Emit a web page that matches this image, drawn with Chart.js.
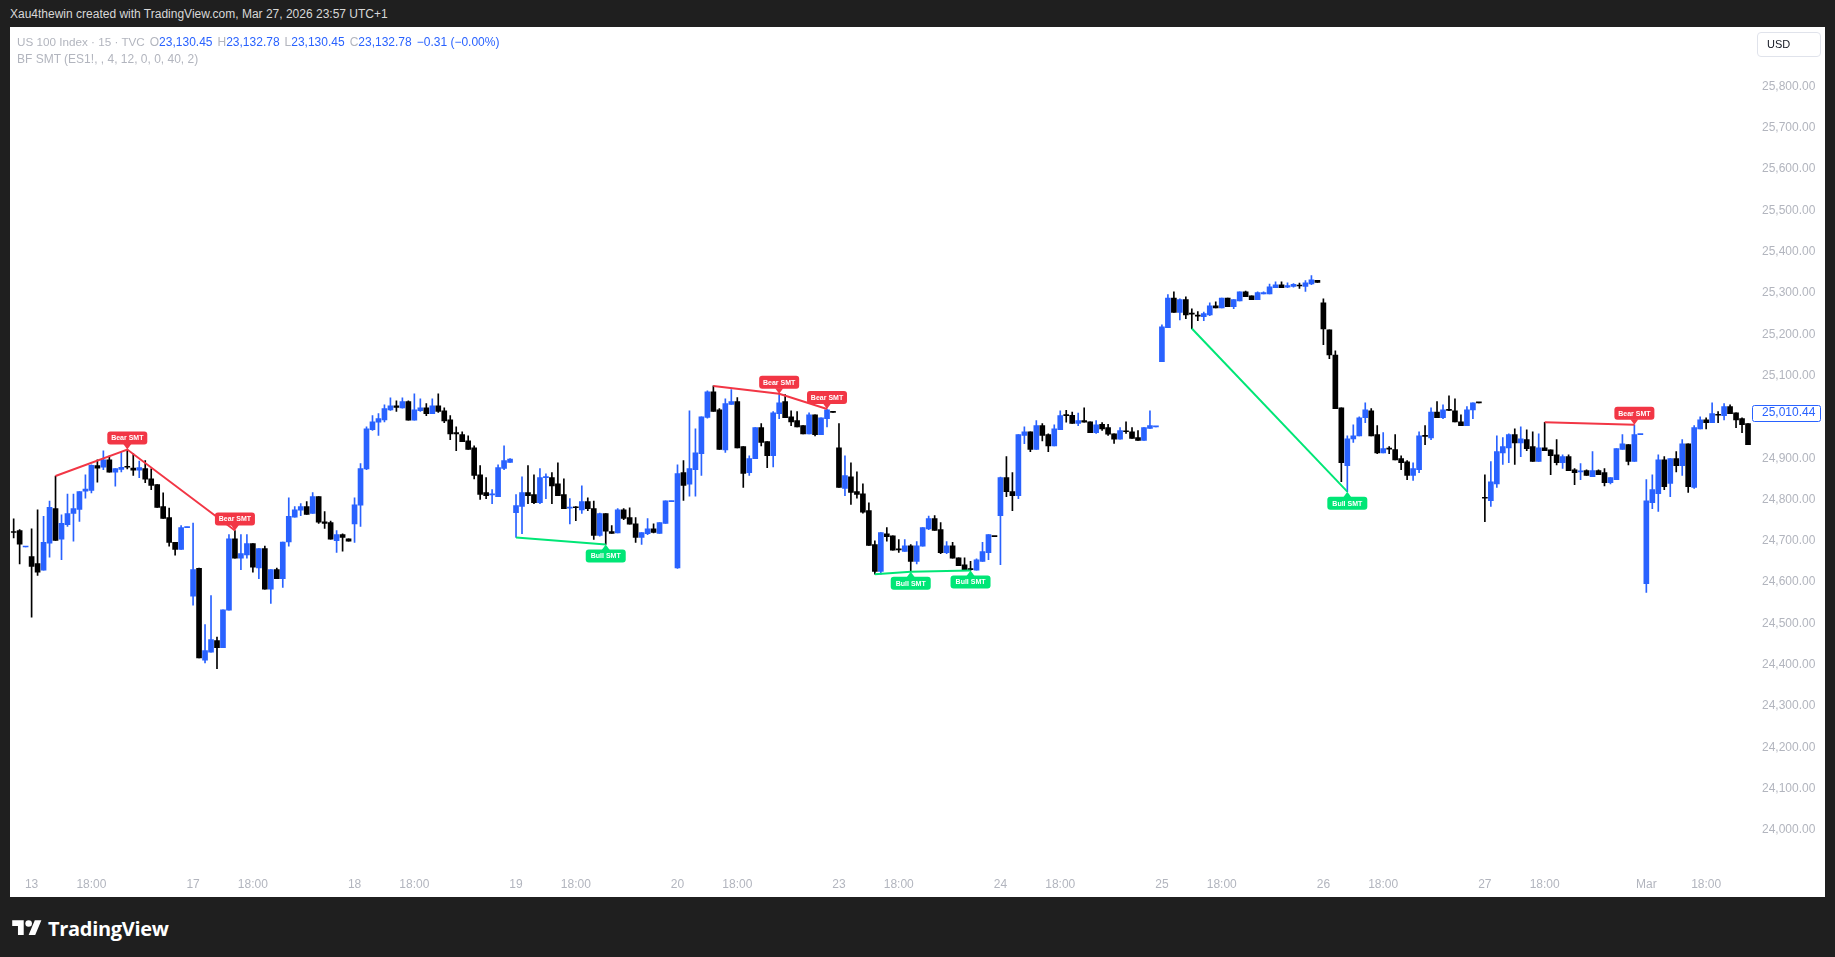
<!DOCTYPE html>
<html>
<head>
<meta charset="utf-8">
<script src="https://cdn.jsdelivr.net/npm/chart.js@4.4.1/dist/chart.umd.min.js"></script>
<style>
html,body{margin:0;padding:0;background:#1f1f1f;width:1835px;height:957px;overflow:hidden;font-family:"Liberation Sans",Arial,sans-serif;}
#title{position:absolute;left:10px;top:6px;font-size:12px;line-height:16px;color:#d8d8d8;white-space:nowrap;}
#panel{position:absolute;left:10px;top:27px;width:1815px;height:870px;background:#ffffff;}
#chart{position:absolute;left:0;top:0;}
.leg{position:absolute;left:7px;font-size:12px;line-height:16px;color:#b2b5be;white-space:nowrap;}
.leg .n{font-size:11.7px;}
.leg .v{color:#2962ff;}
.leg .g{margin-left:5px;}
#usd{position:absolute;left:1747px;top:5px;width:62px;height:23px;border:1px solid #e0e3eb;border-radius:4px;font-size:11px;line-height:23px;color:#131722;box-sizing:content-box;}
#usd span{position:absolute;left:9px;}
#logo{position:absolute;left:12px;top:916px;height:24px;display:flex;align-items:center;color:#ffffff;}
#logo span{font-size:20px;font-weight:bold;margin-left:6px;letter-spacing:-0.3px;font-family:"Open Sans","Liberation Sans",Arial,sans-serif;}
</style>
</head>
<body>
<div id="title">Xau4thewin created with TradingView.com, Mar 27, 2026 23:57 UTC+1</div>
<div id="panel">
  <canvas id="chart" width="1815" height="870"></canvas>
  <div class="leg" style="top:7px;"><span class="n">US 100 Index · 15 · TVC</span><span class="g">O</span><span class="v">23,130.45</span><span class="g">H</span><span class="v">23,132.78</span><span class="g">L</span><span class="v">23,130.45</span><span class="g">C</span><span class="v">23,132.78</span><span class="v g">−0.31 (−0.00%)</span></div>
  <div class="leg" style="top:24px;">BF SMT (ES1!, , 4, 12, 0, 0, 40, 2)</div>
  <div id="usd"><span>USD</span></div>
</div>
<div id="logo">
  <svg width="30" height="23" viewBox="0 0 36 28"><path fill="#ffffff" d="M14 22H7V11H0V4h14v18zM28 22h-8l7.5-18h8L28 22z"/><circle fill="#ffffff" cx="20" cy="8" r="4"/></svg>
  <span>TradingView</span>
</div>
<script>
// ---- sessions (15-minute bars, 15:30 - 22:00) ----
const dayNames  = ['Feb 12','Feb 13','Feb 17','Feb 18','Feb 19','Feb 20','Feb 23','Feb 24','Feb 25','Feb 26','Feb 27','Mar 2'];
const dayTicks  = ['','13','17','18','19','20','23','24','25','26','27','Mar'];
const dayBars   = [3,27,27,27,27,27,27,27,27,27,27,18];
const dayFirst  = [24,0,0,0,0,0,0,0,0,0,0,0];
const yTickValues = [24000,24100,24200,24300,24400,24500,24600,24700,24800,24900,25000,25100,25200,25300,25400,25500,25600,25700,25800];
const lastPrice = 25010.44;

// ---- OHLC values ----
const opens = [
24721,24725,24685,24662,24645,24629,24694,24778,24704,24739,
24766,24776,24820,24822,24882,24878,24896,24866,24873,24879,
24876,24871,24875,24850,24836,24783,24756,24696,24679,24732,
24566,24633,24411,24430,24458,24441,24532,24705,24658,24666,
24693,24634,24681,24583,24630,24608,24697,24757,24774,24783,
24766,24807,24746,24744,24700,24715,24705,24741,24786,24874,
24969,24987,24993,25017,25027,25022,25037,24992,25015,25022,
25008,25027,25015,24993,24962,24957,24942,24925,24860,24817,
24811,24807,24875,24890,24768,24783,24817,24812,24792,24853,
24853,24838,24812,24779,24782,24775,24795,24778,24713,24766,
24722,24719,24775,24756,24741,24708,24717,24729,24718,24742,
24795,24634,24865,24837,24872,24911,24999,25061,25017,24920,
25030,25037,24928,24865,24899,24974,24940,24906,25008,25037,
25000,24991,24979,24959,25005,24957,24996,25013,24925,24827,
24855,24819,24814,24773,24691,24626,24717,24712,24679,24674,
24688,24650,24687,24729,24754,24727,24671,24688,24659,24642,
24631,24629,24650,24671,24711,24761,24853,24819,24809,24955,
24964,24921,24979,24957,24930,24969,25004,25004,24984,24991,
24988,24962,24982,24974,24959,24946,24966,24964,24950,24943,
24972,24976,25134,25216,25288,25253,25284,25250,25245,25243,
25247,25269,25264,25288,25267,25281,25303,25293,25284,25298,
25298,25313,25320,25314,25316,25318,25316,25322,25331,25276,
25211,25150,25022,24882,24947,24954,24998,25015,24957,24913,
24923,24921,24899,24891,24858,24872,24954,24949,25012,24998,
25017,25015,24988,24979,25017,25035,24804,24797,24838,24913,
24925,24957,24937,24945,24928,24892,24925,24920,24908,24889,
24904,24872,24867,24870,24855,24870,24865,24841,24848,24921,
24933,24892,24957,24596,24792,24814,24896,24839,24899,24882,
24935,24829,24971,24993,24986,25005,25003,25025,25010,24996,24984];
const highs = [
24753,24727,24686,24729,24775,24759,24796,24857,24763,24813,
24813,24819,24860,24884,24896,24918,24905,24875,24915,24921,
24911,24893,24894,24874,24836,24816,24779,24696,24737,24733,
24743,24634,24497,24567,24467,24533,24715,24725,24715,24715,
24693,24681,24687,24630,24634,24697,24804,24783,24790,24795,
24817,24807,24771,24748,24725,24717,24705,24804,24887,24976,
25003,25008,25029,25046,25039,25046,25039,25056,25044,25032,
25044,25056,25022,25003,24976,24964,24954,24930,24882,24853,
24824,24884,24930,24899,24812,24855,24882,24860,24875,24862,
24865,24889,24850,24802,24783,24833,24804,24796,24767,24766,
24737,24778,24778,24780,24756,24720,24754,24741,24744,24797,
24796,24884,24894,25015,24971,25000,25063,25075,25020,25044,
25066,25047,24928,24906,24974,24984,24940,25013,25056,25054,
25015,25013,24979,25010,25005,24998,25019,25013,24984,24906,
24889,24867,24838,24792,24700,24720,24732,24712,24703,24703,
24691,24698,24732,24760,24761,24744,24698,24696,24659,24659,
24650,24656,24696,24715,24711,24854,24904,24865,24957,24976,
24964,24991,24984,24959,24981,25015,25016,25012,25009,25022,
24988,24991,24986,24982,24959,24974,24988,24974,24967,24974,
25015,24977,25223,25296,25303,25286,25291,25262,25255,25254,
25276,25279,25288,25288,25284,25303,25305,25293,25303,25303,
25322,25327,25327,25325,25323,25324,25330,25342,25331,25286,
25211,25160,25022,24954,24981,25000,25034,25020,24979,24962,
24928,24957,24906,24894,24889,24964,24979,25022,25037,25029,
25051,25044,25005,25025,25034,25035,24860,24892,24954,24950,
24959,24971,24976,24969,24964,24959,24987,24920,24945,24908,
24908,24875,24887,24872,24916,24872,24875,24853,24923,24957,
24933,24981,24958,24848,24860,24908,24904,24899,24916,24945,
24935,24979,25000,24998,25034,25013,25032,25029,25010,24998,24984];
const lows = [
24707,24644,24685,24515,24616,24629,24660,24701,24654,24735,
24699,24747,24803,24816,24842,24872,24866,24832,24867,24874,
24858,24853,24841,24824,24781,24754,24687,24665,24679,24732,
24544,24416,24404,24430,24390,24441,24532,24658,24630,24658,
24624,24608,24583,24548,24608,24587,24687,24757,24761,24764,
24766,24742,24730,24704,24672,24675,24699,24696,24735,24872,
24967,24955,24988,25016,25013,25021,24992,24992,25013,25003,
25008,25011,24986,24945,24918,24940,24921,24850,24800,24802,
24790,24807,24872,24890,24708,24717,24790,24790,24790,24802,
24790,24809,24778,24741,24749,24766,24773,24703,24711,24691,
24718,24719,24751,24740,24696,24691,24715,24719,24718,24742,
24795,24633,24798,24808,24808,24858,24997,25013,24921,24914,
25030,24925,24829,24858,24899,24930,24877,24879,24996,24998,
24979,24976,24959,24959,24954,24957,24976,25011,24829,24809,
24788,24803,24767,24689,24619,24619,24699,24677,24672,24674,
24625,24644,24687,24727,24725,24669,24669,24658,24640,24630,
24628,24629,24650,24654,24710,24642,24807,24773,24802,24935,
24916,24921,24942,24916,24930,24969,24987,24984,24979,24987,
24962,24960,24967,24955,24936,24946,24960,24948,24943,24943,
24972,24976,25134,25216,25253,25235,25238,25214,25233,25233,
25245,25264,25264,25267,25262,25281,25291,25284,25284,25298,
25298,25313,25313,25313,25314,25311,25304,25320,25326,25175,
25141,25020,24843,24819,24938,24954,24986,24954,24911,24913,
24911,24896,24872,24848,24846,24865,24933,24945,24998,24996,
25015,24988,24979,24979,24996,25034,24746,24783,24829,24885,
24889,24885,24904,24918,24892,24892,24918,24860,24884,24875,
24870,24836,24848,24858,24855,24860,24833,24838,24848,24921,
24884,24892,24957,24575,24778,24771,24824,24807,24867,24858,
24817,24827,24971,24971,24986,24986,24993,25008,24974,24962,24933];
const closes = [
24720,24692,24686,24638,24624,24696,24781,24701,24742,24766,
24778,24819,24825,24883,24876,24896,24866,24875,24878,24878,
24871,24877,24849,24834,24781,24754,24696,24679,24732,24733,
24630,24416,24434,24461,24441,24533,24705,24658,24669,24693,
24636,24681,24583,24630,24608,24697,24759,24775,24783,24764,
24807,24745,24742,24704,24715,24708,24699,24787,24875,24971,
24988,24996,25020,25027,25023,25037,24992,25017,25022,25008,
25027,25013,24990,24959,24959,24940,24921,24858,24812,24809,
24812,24877,24894,24898,24785,24817,24809,24792,24853,24855,
24833,24809,24778,24781,24780,24795,24778,24713,24766,24723,
24718,24775,24754,24740,24708,24720,24729,24720,24744,24797,
24796,24863,24834,24875,24913,25000,25061,25013,24921,25032,
25037,24925,24863,24899,24974,24938,24906,25010,25034,24998,
24988,24976,24959,25005,24957,24998,25017,25011,24829,24858,
24817,24812,24769,24689,24626,24720,24710,24677,24678,24688,
24650,24688,24732,24754,24725,24671,24688,24658,24640,24630,
24630,24654,24674,24715,24710,24853,24819,24809,24957,24964,
24921,24979,24955,24930,24971,25003,25003,24984,24991,24987,
24962,24981,24971,24958,24946,24967,24964,24948,24943,24974,
24979,24977,25218,25288,25253,25284,25247,25249,25244,25250,
25269,25264,25288,25267,25284,25303,25291,25284,25301,25301,
25315,25320,25313,25318,25321,25317,25325,25332,25326,25213,
25150,25020,24889,24947,24954,24998,25017,24954,24913,24923,
24922,24896,24889,24858,24875,24954,24953,25012,24998,25017,
25016,24988,24979,25017,25034,25034,24803,24843,24916,24928,
24957,24937,24947,24923,24892,24925,24918,24906,24889,24904,
24870,24865,24868,24858,24870,24860,24841,24853,24923,24935,
24892,24957,24958,24797,24824,24896,24831,24899,24882,24935,
24831,24974,24993,24986,25008,25004,25025,25008,24993,24981,24933];

// ---- SMT signals (bar indices) ----
const bearLines = [[7,19,37],[117,128,136],[256,271]];
const bullLines = [[84,99],[144,150,160],[197,223]];
const bearTags = [19,37,128,136,271];
const bullTags = [99,150,160,223];

// ---- build categories and tick texts ----
const categories = [], tickText = [];
dayNames.forEach((d, di) => {
  for (let j = dayFirst[di]; j < dayFirst[di] + dayBars[di]; j++) {
    const m = 15*60 + 30 + 15*j;
    const t = String(Math.floor(m/60)).padStart(2,'0') + ':' + String(m%60).padStart(2,'0');
    categories.push(d + ' ' + t);
    tickText.push(j === 0 ? dayTicks[di] : (t === '18:00' ? '18:00' : ''));
  }
});

const UP = '#2962ff', DOWN = '#000000', RED = '#f23645', GREEN = '#00e676';
const colors = opens.map((o, i) => closes[i] >= o ? UP : DOWN);

function lineData(idx, src) {
  const arr = categories.map(() => null);
  idx.forEach(i => { arr[i] = src[i]; });
  return arr;
}
const lineSets = [];
bearLines.forEach(l => lineSets.push({type:'line', data: lineData(l, highs), borderColor: RED, borderWidth: 2, pointRadius: 0, spanGaps: true, order: 0}));
bullLines.forEach(l => lineSets.push({type:'line', data: lineData(l, lows), borderColor: GREEN, borderWidth: 2, pointRadius: 0, spanGaps: true, order: 0}));

function rr(ctx, x, y, w, h, r) {
  ctx.beginPath();
  ctx.moveTo(x + r, y);
  ctx.lineTo(x + w - r, y); ctx.quadraticCurveTo(x + w, y, x + w, y + r);
  ctx.lineTo(x + w, y + h - r); ctx.quadraticCurveTo(x + w, y + h, x + w - r, y + h);
  ctx.lineTo(x + r, y + h); ctx.quadraticCurveTo(x, y + h, x, y + h - r);
  ctx.lineTo(x, y + r); ctx.quadraticCurveTo(x, y, x + r, y);
  ctx.closePath();
}
function tag(ctx, px, tipY, text, color, above) {
  const w = 40, h = 13, tri = 5;
  const top = above ? tipY - tri - h : tipY + tri;
  ctx.fillStyle = color;
  rr(ctx, px - w/2, top, w, h, 3);
  ctx.fill();
  ctx.beginPath();
  if (above) { ctx.moveTo(px - 4, top + h - 0.5); ctx.lineTo(px + 4, top + h - 0.5); ctx.lineTo(px, tipY); }
  else { ctx.moveTo(px - 4, top + 0.5); ctx.lineTo(px + 4, top + 0.5); ctx.lineTo(px, tipY); }
  ctx.closePath(); ctx.fill();
  ctx.fillStyle = '#ffffff';
  ctx.font = 'bold 7px "Liberation Sans", Arial, sans-serif';
  ctx.textAlign = 'center'; ctx.textBaseline = 'middle';
  ctx.fillText(text, px, top + h/2 + 0.5);
}

const overlay = {
  id: 'overlay',
  afterDatasetsDraw(chart) {
    const {ctx, scales: {x, y}} = chart;
    ctx.save();
    bearTags.forEach(i => tag(ctx, x.getPixelForValue(i), y.getPixelForValue(highs[i]), 'Bear SMT', RED, true));
    bullTags.forEach(i => tag(ctx, x.getPixelForValue(i), y.getPixelForValue(lows[i]), 'Bull SMT', GREEN, false));
    // last price box
    const py = y.getPixelForValue(lastPrice);
    const bx = chart.chartArea.right + 1;
    ctx.fillStyle = '#ffffff';
    rr(ctx, bx + 0.5, Math.round(py) - 8 + 0.5, 68, 16, 2);
    ctx.fill();
    ctx.strokeStyle = UP; ctx.lineWidth = 1; ctx.stroke();
    ctx.fillStyle = UP;
    ctx.font = '12px "Liberation Sans", Arial, sans-serif';
    ctx.textAlign = 'left'; ctx.textBaseline = 'middle';
    ctx.fillText(lastPrice.toLocaleString('en-US', {minimumFractionDigits: 2}), bx + 10, py + 0.5);
    ctx.restore();
  }
};

Chart.defaults.font.family = '"Liberation Sans", Arial, sans-serif';
new Chart(document.getElementById('chart'), {
  type: 'bar',
  data: {
    labels: categories,
    datasets: [
      {data: lows.map((l, i) => [l, highs[i]]), backgroundColor: colors, barThickness: 1, grouped: false, order: 2},
      {data: opens.map((o, i) => [o, closes[i]]), backgroundColor: colors, barThickness: 5, grouped: false, minBarLength: 1, order: 1},
      ...lineSets
    ]
  },
  options: {
    responsive: false,
    animation: false,
    layout: {padding: {left: 0.67, right: 10, top: 0, bottom: 0}},
    plugins: {legend: {display: false}, tooltip: {enabled: false}},
    scales: {
      x: {
        type: 'category', offset: true,
        grid: {display: false, drawTicks: false},
        border: {display: false},
        ticks: {autoSkip: false, maxRotation: 0, minRotation: 0, padding: 11, color: '#b2b5be', font: {size: 12},
                callback: (v, i) => tickText[i]},
        afterFit(s) { s.height = 31; s.paddingLeft = 0; s.paddingRight = 0; s.paddingTop = 0; s.paddingBottom = 0; }
      },
      y: {
        position: 'right', min: 23912.33, max: 25944.35,
        grid: {display: false, drawTicks: false},
        border: {display: false},
        ticks: {padding: 11, color: '#b2b5be', font: {size: 12},
                callback: v => Number(v).toLocaleString('en-US', {minimumFractionDigits: 2, maximumFractionDigits: 2})},
        afterBuildTicks(s) { s.ticks = yTickValues.map(v => ({value: v})); },
        afterFit(s) { s.width = 64; s.paddingTop = 0; s.paddingBottom = 0; s.paddingLeft = 0; s.paddingRight = 0; }
      }
    }
  },
  plugins: [overlay]
});
</script>
</body>
</html>
